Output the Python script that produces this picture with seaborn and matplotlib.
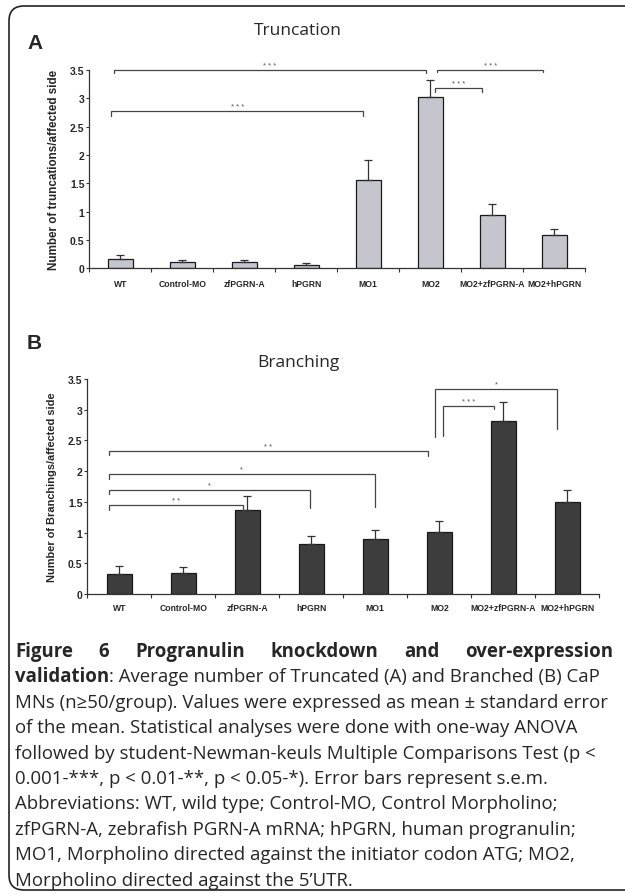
import numpy as np
import matplotlib
matplotlib.use("Agg")
import matplotlib.pyplot as plt
import seaborn as sns
from matplotlib.patches import FancyBboxPatch

# ---- data ----
groups = ["WT", "Control-MO", "zfPGRN-A", "hPGRN", "MO1", "MO2",
          "MO2+zfPGRN-A", "MO2+hPGRN"]

trunc_mean = [0.16, 0.11, 0.11, 0.05, 1.56, 3.02, 0.94, 0.58]
trunc_sem = [0.07, 0.03, 0.03, 0.05, 0.35, 0.31, 0.19, 0.12]

branch_mean = [0.32, 0.34, 1.36, 0.81, 0.89, 1.01, 2.81, 1.49]
branch_sem = [0.13, 0.10, 0.23, 0.13, 0.16, 0.18, 0.31, 0.21]

yticks = [0, 0.5, 1, 1.5, 2, 2.5, 3, 3.5]
ytick_labels = ["0", "0.5", "1", "1.5", "2", "2.5", "3", "3.5"]

# significance brackets: (left, right, line height, left end, right end, stars)
trunc_sig = [
    (-0.10, 4.93, 3.50, 3.44, 3.44, "* * *"),
    (-0.15, 3.92, 2.77, 2.69, 2.69, "* * *"),
    (5.08, 5.83, 3.18, 3.12, 3.12, "* * *"),
    (5.11, 6.82, 3.50, 3.46, 3.46, "* * *"),
]
branch_sig = [
    (-0.16, 1.93, 1.45, 1.37, 1.35, "* *"),
    (-0.16, 2.98, 1.70, 1.62, 1.40, "*"),
    (-0.16, 3.99, 1.96, 1.88, 1.41, "*"),
    (-0.16, 4.82, 2.33, 2.26, 2.25, "* *"),
    (5.05, 5.86, 3.06, 2.57, 3.01, "* * *"),
    (4.94, 6.84, 3.34, 2.56, 2.68, "*"),
]

caption_lines = [
    "MNs (n\u226550/group). Values were expressed as mean \u00b1 standard error",
    "of the mean. Statistical analyses were done with one-way ANOVA",
    "followed by student-Newman-keuls Multiple Comparisons Test (p <",
    "0.001-***, p < 0.01-**, p < 0.05-*). Error bars represent s.e.m.",
    "Abbreviations: WT, wild type; Control-MO, Control Morpholino;",
    "zfPGRN-A, zebrafish PGRN-A mRNA; hPGRN, human progranulin;",
    "MO1, Morpholino directed against the initiator codon ATG; MO2,",
    "Morpholino directed against the 5\u2019UTR.",
]
caption_head = "Figure 6 Progranulin knockdown and over-expression"

sns.set_style("white")
plt.rcParams["font.family"] = ["Liberation Sans", "DejaVu Sans"]
cap_font = ["Open Sans", "DejaVu Sans"]

W, H = 625, 895
fig = plt.figure(figsize=(W / 100, H / 100), dpi=100)

# background axes in pixel units for frame, labels and caption
bg = fig.add_axes([0, 0, 1, 1])
bg.set_xlim(0, W)
bg.set_ylim(H, 0)
bg.axis("off")
bg.add_patch(FancyBboxPatch((9, 7), 660, 884,
                            boxstyle="round,pad=0,rounding_size=15",
                            fc="none", ec="#222222", lw=1.2))


def panel(rect, means, sems, sig, face, ylabel, ylabel_size, xpad):
    ax = fig.add_axes(rect)
    ax.set_facecolor("none")
    sns.barplot(x=groups, y=means, color=face, saturation=1, width=0.4,
                edgecolor="#1a1a1a", linewidth=0.9, errorbar=None, ax=ax)
    ax.errorbar(np.arange(len(groups)), means,
                yerr=[np.zeros(len(sems)), sems], fmt="none",
                ecolor="#333333", elinewidth=0.9, capsize=3, capthick=0.9)
    ax.set_xlim(-0.5, len(groups) - 0.5)
    ax.set_ylim(0, 3.5)
    ax.set_yticks(yticks)
    ax.set_yticklabels(ytick_labels, fontsize=7.5, fontweight="bold")
    ax.set_xticks(np.arange(-0.5, len(groups), 1))
    ax.set_xticklabels([])
    ax.set_xticks(np.arange(len(groups)), minor=True)
    ax.set_xticklabels(groups, minor=True, fontsize=6.2, fontweight="bold")
    ax.tick_params(axis="x", which="major", length=3, width=0.8,
                   color="#333333", direction="out")
    ax.tick_params(axis="x", which="minor", length=0, pad=xpad)
    ax.tick_params(axis="y", length=2.5, width=0.8, color="#333333",
                   pad=1, direction="out")
    ax.tick_params(bottom=True, left=True)
    for s in ["top", "right"]:
        ax.spines[s].set_visible(False)
    for s in ["left", "bottom"]:
        ax.spines[s].set_color("#333333")
        ax.spines[s].set_linewidth(0.9)
    ax.set_xlabel("")
    ax.set_ylabel(ylabel, fontsize=ylabel_size, fontweight="bold")
    ax.yaxis.set_label_coords(-0.06, 0.5)
    for x0, x1, y, yl, yr, stars in sig:
        ax.plot([x0, x0, x1, x1], [yl, y, y, yr], color="#444444", lw=0.9,
                clip_on=False, solid_joinstyle="miter")
        ax.text((x0 + x1) / 2, y + 0.02, stars, ha="center", va="bottom",
                fontsize=5.5, color="#555555", clip_on=False)
    return ax


panel([89.3 / W, 1 - 269.3 / H, 496 / W, 198.3 / H],
      trunc_mean, trunc_sem, trunc_sig, "#c5c5cd",
      "Number of truncations/affected side", 8.4, 7.5)
panel([87.3 / W, 1 - 595 / H, 512 / W, 215 / H],
      branch_mean, branch_sem, branch_sig, "#3d3d3d",
      "Number of Branchings/affected side", 7.9, 6.5)

# panel letters and titles
bg.text(27, 43, "A", fontsize=15, fontweight="bold", va="center", ha="left")
bg.text(27, 343, "B", fontsize=15, fontweight="bold", va="center", ha="left")
bg.text(298, 31, "Truncation", fontsize=12.5, family=cap_font,
        ha="center", va="center")
bg.text(298, 363, "Branching", fontsize=12.5, family=cap_font,
        ha="center", va="center")

# caption
fig.canvas.draw()
rend = fig.canvas.get_renderer()
cap_size = 13.4
left, right = 15, 613
y0, step = 652, 25.4

# first line: bold, justified between left and right
words = caption_head.split()
arts = [bg.text(0, y0, w, fontsize=cap_size, fontweight="bold",
                family=cap_font, va="center", ha="left") for w in words]
widths = [a.get_window_extent(rend).width for a in arts]
gap = (right - left - sum(widths)) / (len(words) - 1)
x = left
for a, w in zip(arts, widths):
    a.set_x(x)
    x += w + gap

# second line: bold word then regular text
t = bg.text(left, y0 + step, "validation", fontsize=cap_size,
            fontweight="bold", family=cap_font, va="center", ha="left")
w = t.get_window_extent(rend).width
bg.text(left + w, y0 + step,
        ": Average number of Truncated (A) and Branched (B) CaP",
        fontsize=cap_size, family=cap_font, va="center", ha="left")

for i, line in enumerate(caption_lines):
    bg.text(left, y0 + step * (i + 2), line, fontsize=cap_size,
            family=cap_font, va="center", ha="left")

fig.savefig("out.png", dpi=100, facecolor="white")
